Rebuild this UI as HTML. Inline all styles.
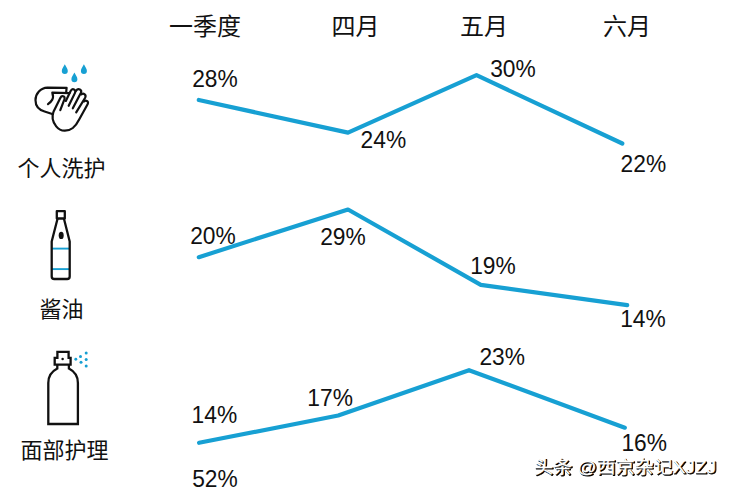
<!DOCTYPE html>
<html><head><meta charset="utf-8"><title>chart</title>
<style>
html,body{margin:0;padding:0;background:#fff;}
body{width:731px;height:491px;overflow:hidden;font-family:"Liberation Sans",sans-serif;}
svg{display:block;}
svg text{font-family:"Liberation Sans","Noto Sans CJK SC",sans-serif;font-size:22.8px;fill:#111;}
</style></head><body>
<svg width="731" height="491" viewBox="0 0 731 491">
<rect width="731" height="491" fill="#fff"/>

<g fill="none" stroke="#17a0d3" stroke-width="4.2" stroke-linecap="round" stroke-linejoin="round">
<polyline points="198.8,100 348,132.6 476.5,75.2 622.3,143.5"/>
<polyline points="198.8,257.2 348,209.5 480.8,284.8 627.2,305.2"/>
<polyline points="199.1,442.8 338.2,415.5 469,370.2 624.8,427.7"/>
</g>
<g><text transform="translate(237.80,87.00) scale(1,1.045)" text-anchor="end">28%</text>
<text transform="translate(406.20,148.00) scale(1,1.045)" text-anchor="end">24%</text>
<text transform="translate(535.80,76.80) scale(1,1.045)" text-anchor="end">30%</text>
<text transform="translate(666.20,171.80) scale(1,1.045)" text-anchor="end">22%</text>
<text transform="translate(235.80,244.00) scale(1,1.045)" text-anchor="end">20%</text>
<text transform="translate(365.80,245.00) scale(1,1.045)" text-anchor="end">29%</text>
<text transform="translate(515.80,273.80) scale(1,1.045)" text-anchor="end">19%</text>
<text transform="translate(665.80,326.80) scale(1,1.045)" text-anchor="end">14%</text>
<text transform="translate(237.20,422.80) scale(1,1.045)" text-anchor="end">14%</text>
<text transform="translate(352.90,405.80) scale(1,1.045)" text-anchor="end">17%</text>
<text transform="translate(525.00,364.80) scale(1,1.045)" text-anchor="end">23%</text>
<text transform="translate(667.00,450.80) scale(1,1.045)" text-anchor="end">16%</text>
<text transform="translate(237.80,487.00) scale(1,1.045)" text-anchor="end">52%</text></g>
<g>
<text x="205" y="35" text-anchor="middle" style="font-size:24px">一季度</text>
<text x="355.5" y="35" text-anchor="middle" style="font-size:24px">四月</text>
<text x="484" y="35" text-anchor="middle" style="font-size:24px">五月</text>
<text x="627" y="35" text-anchor="middle" style="font-size:24px">六月</text>
<text x="61.5" y="175.5" text-anchor="middle" style="font-size:22px">个人洗护</text>
<text x="61.5" y="317" text-anchor="middle" style="font-size:22px">酱油</text>
<text x="64.5" y="458" text-anchor="middle" style="font-size:22px">面部护理</text>
</g>
<!-- hand-wash icon -->
<g fill="#17a0d3">
<path d="M64.8,64.3 C66,66.6 67.8,68.8 67.8,70.9 A3,3 0 0 1 61.8,70.9 C61.8,68.8 63.6,66.6 64.8,64.3Z"/>
<path d="M83.9,64.3 C85.1,66.6 86.9,68.8 86.9,70.9 A3,3 0 0 1 80.9,70.9 C80.9,68.8 82.7,66.6 83.9,64.3Z"/>
<path d="M74.4,72.6 C75.6,74.9 77.4,77.1 77.4,79.2 A3,3 0 0 1 71.4,79.2 C71.4,77.1 73.2,74.9 74.4,72.6Z"/>
</g>
<g fill="none" stroke="#111" stroke-width="2.2" stroke-linecap="round" stroke-linejoin="round">
<!-- back hand -->
<path d="M66.2,92 L66.6,87.8 L47.5,87.7 C40.5,87.9 35.5,93.6 35.5,100.2 C35.5,106.2 39.6,110 44.6,111.5 L53,114.2"/>
<path d="M69.5,93.2 L52.3,92.7 C53.2,95.6 53.3,98 52.3,99.6 C51.3,101.4 49.8,102.8 48,104.1"/>
<!-- front hand: thumb + palm + pinky -->
<path d="M60.3,110.2 L64.4,99.4 C65,97.6 64.4,96.6 63.2,96.3 C62,96 61,96.6 60.3,98 L53.6,111.4 C51.6,116.4 52.4,121.6 56.2,126.4 C58.8,129.6 61.8,130.8 64.9,130.7 C68,130.6 70.6,129.8 72.8,128 C75.6,125.6 77.6,122.6 79.3,119.2 L87.6,104.2 C88.4,102.8 88,101.6 86.9,101 C85.9,100.5 84.8,100.7 84,101.5"/>
<!-- index -->
<path d="M65.8,100.9 L70.5,91.2 C71.3,89.6 72.6,88.8 74,89.4 C75.4,90.1 75.7,91.4 75,92.9 L68.7,105.8"/>
<!-- middle -->
<path d="M76.1,90.8 C77,89.3 78.5,88.7 79.9,89.4 C81.3,90.1 81.5,91.5 80.8,93 L72.8,108.3"/>
<!-- ring -->
<path d="M81.4,94.4 C82.4,93.6 83.7,93.6 84.7,94.4 C85.8,95.3 85.8,96.6 85,98 L76.2,112.4"/>
</g>
<!-- soy sauce bottle -->
<g stroke="#17a0d3" stroke-width="1.9">
<line x1="51.6" y1="248.6" x2="69.8" y2="248.6"/>
<line x1="51.6" y1="269.1" x2="69.8" y2="269.1"/>
</g>
<g fill="none" stroke="#111" stroke-width="2.3" stroke-linejoin="round">
<rect x="56.8" y="211.2" width="8" height="7.3"/>
<path d="M57.6,218.5 L51.7,241.5 L51.7,276.4 Q51.7,279 54.3,279 L67.1,279 Q69.7,279 69.7,276.4 L69.7,241.5 L63.9,218.5"/>
</g>
<ellipse cx="61.2" cy="235.4" rx="2.5" ry="3.7" fill="#111"/>
<!-- spray bottle -->
<g fill="none" stroke="#111" stroke-width="2.3" stroke-linejoin="miter">
<path d="M57.4,357.8 L57.4,351.9 L68.6,351.9 L68.6,357.8 L70.6,357.8 L70.6,364.7 L54.7,364.7 L54.7,357.8 Z"/>
<path d="M57.3,364.7 L57.3,368.6 C51.8,371.4 48.3,376.4 48.3,383 L48.3,424 L77.9,424 L77.9,383 C77.9,376.4 74.4,371.4 68.9,368.6 L68.9,364.7"/>
</g>
<circle cx="62.6" cy="358.9" r="1.25" fill="#111"/>
<g fill="#17a0d3">
<circle cx="75.8" cy="359.2" r="1.45"/>
<circle cx="80.5" cy="356.5" r="1.5"/>
<circle cx="86.2" cy="353.1" r="1.5"/>
<circle cx="81" cy="362.2" r="1.5"/>
<circle cx="86.2" cy="359.4" r="1.5"/>
<circle cx="86.2" cy="365.9" r="1.5"/>
</g>

<defs><filter id="sh" x="-5%" y="-20%" width="110%" height="140%"><feGaussianBlur stdDeviation="0.3"/></filter></defs>
<g transform="translate(1.2,1.2)" filter="url(#sh)"><text x="534" y="473" textLength="182" lengthAdjust="spacingAndGlyphs" style="font-size:16.5px;fill:#000;stroke:#000;stroke-width:0.9px;stroke-linejoin:round">头条 @西京杂记XJZJ</text></g>
<text x="534" y="473" textLength="182" lengthAdjust="spacingAndGlyphs" style="font-size:16.5px;fill:#fff;stroke:#fff;stroke-width:0.3px">头条 @西京杂记XJZJ</text>

</svg>
</body></html>
